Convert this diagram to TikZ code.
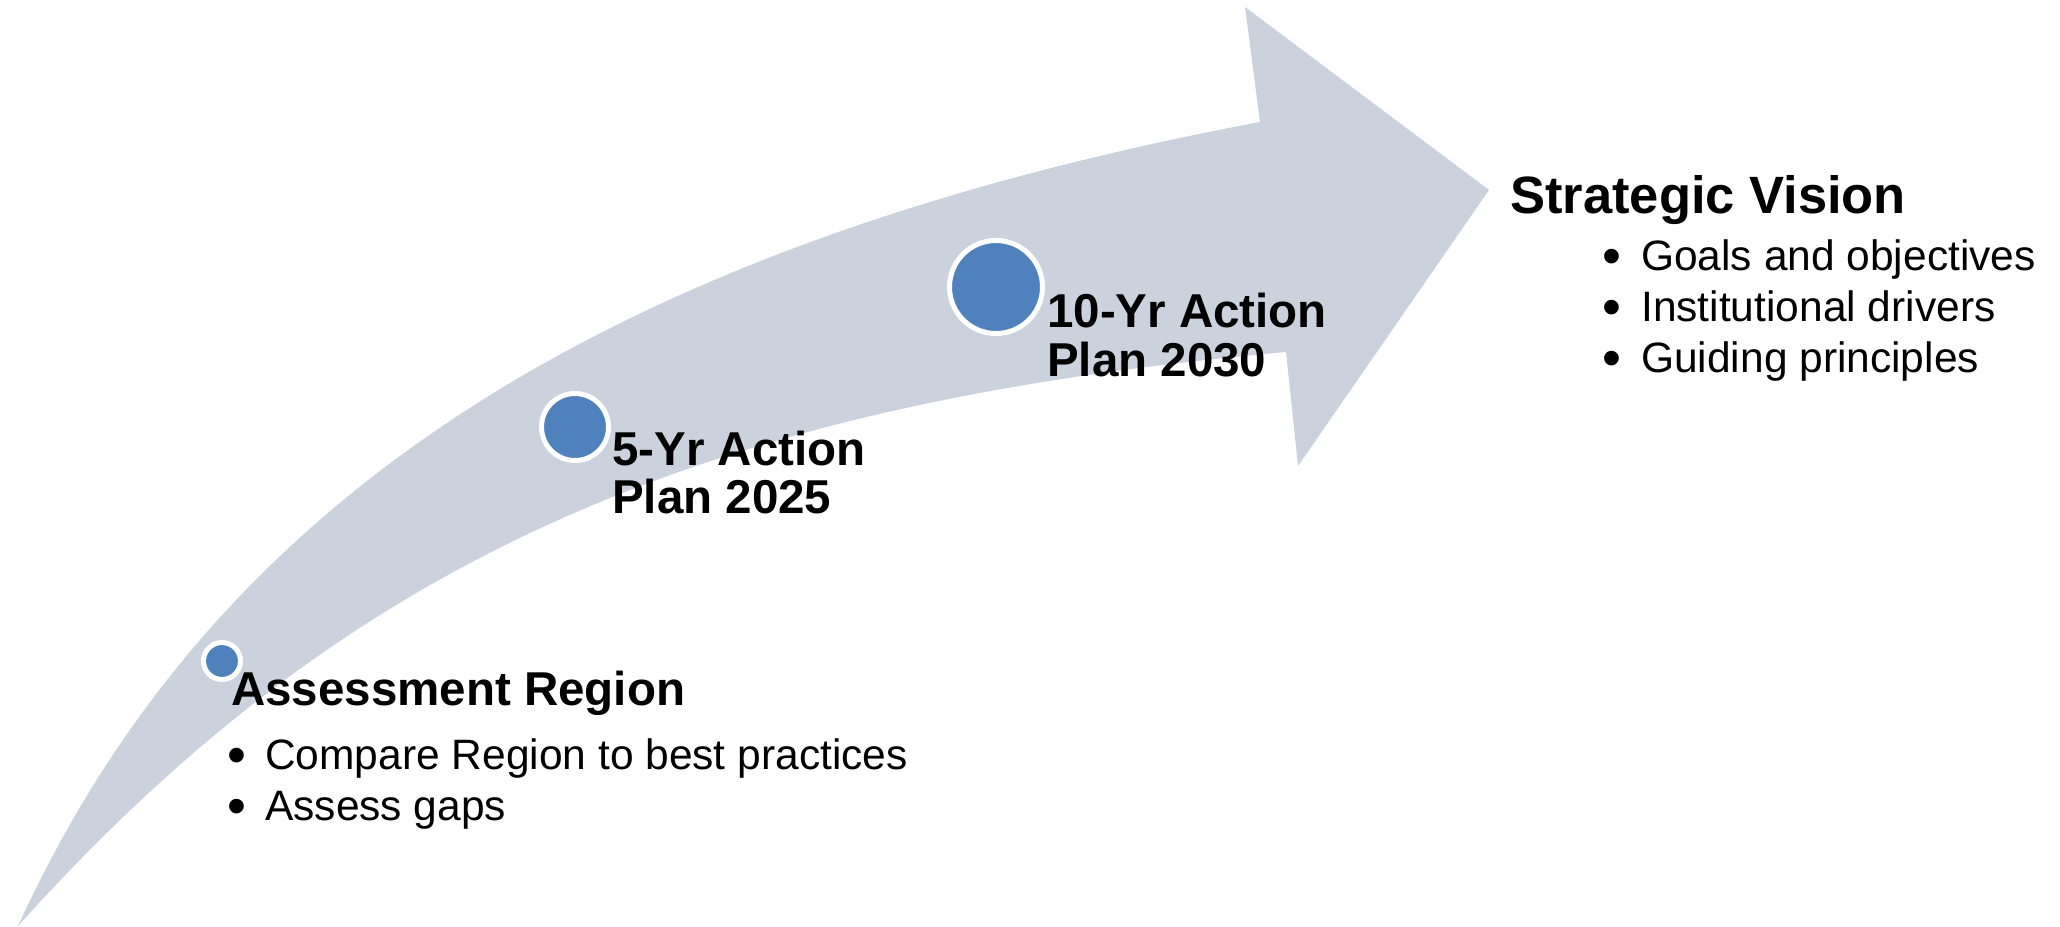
\documentclass[tikz,border=0pt]{standalone}
\usepackage{fontspec}
\setmainfont{Liberation Sans}
\definecolor{shaftgray}{RGB}{203,210,221}
\definecolor{stepblue}{RGB}{79,129,189}
\tikzset{
  milestone/.style={circle, fill=stepblue, draw=white, inner sep=0pt},
  headtext/.style={anchor=base west, inner sep=0pt, font=\fontsize{47.5}{48}\selectfont\bfseries},
  titletext/.style={anchor=base west, inner sep=0pt, font=\fontsize{52.5}{60}\selectfont\bfseries},
  itemtext/.style={anchor=base west, inner sep=0pt, font=\fontsize{42.5}{51}\selectfont},
  bulletmark/.style={anchor=base, inner sep=0pt, font=\fontsize{54}{60}\selectfont},
}
\begin{document}
\begin{tikzpicture}[x=1pt,y=-1pt]
\useasboundingbox (0,0) rectangle (2060,926);

% curved ascending arrow
\fill[shaftgray] (18,926) .. controls (197,535) and (552,255) .. (1260,122)
  -- (1245,7) -- (1489,190) -- (1298,466) -- (1286,352)
  .. controls (708,404) and (352,554) .. (18,926) -- cycle;

% milestones along the arrow
\node[milestone, line width=5pt, minimum size=37pt] (m1) at (222,661) {};
\node[milestone, line width=5pt, minimum size=67pt] (m2) at (575,427) {};
\node[milestone, line width=5pt, minimum size=93pt] (m3) at (996,287) {};

% first stage
\node[headtext] (ar) at (231,705) {Assessment Region};
\node[bulletmark] (arb1) at (237,773) {•};
\node[itemtext] (ar1) at (265,769) {Compare Region to best practices};
\node[bulletmark] (arb2) at (237,824) {•};
\node[itemtext] (ar2) at (265,820) {Assess gaps};

% intermediate plans
\node[headtext] (p5a) at (612,465) {5-Yr Action};
\node[headtext] (p5b) at (612,513) {Plan 2025};
\node[headtext] (p10a) at (1047,327) {10-Yr Action};
\node[headtext] (p10b) at (1047,376) {Plan 2030};

% end goal
\node[titletext] (sv) at (1510,213) {Strategic Vision};
\node[bulletmark] (svb1) at (1612,274) {•};
\node[itemtext] (sv1) at (1641,270) {Goals and objectives};
\node[bulletmark] (svb2) at (1612,325) {•};
\node[itemtext] (sv2) at (1641,321) {Institutional drivers};
\node[bulletmark] (svb3) at (1612,376) {•};
\node[itemtext] (sv3) at (1641,372) {Guiding principles};
\end{tikzpicture}
\end{document}
